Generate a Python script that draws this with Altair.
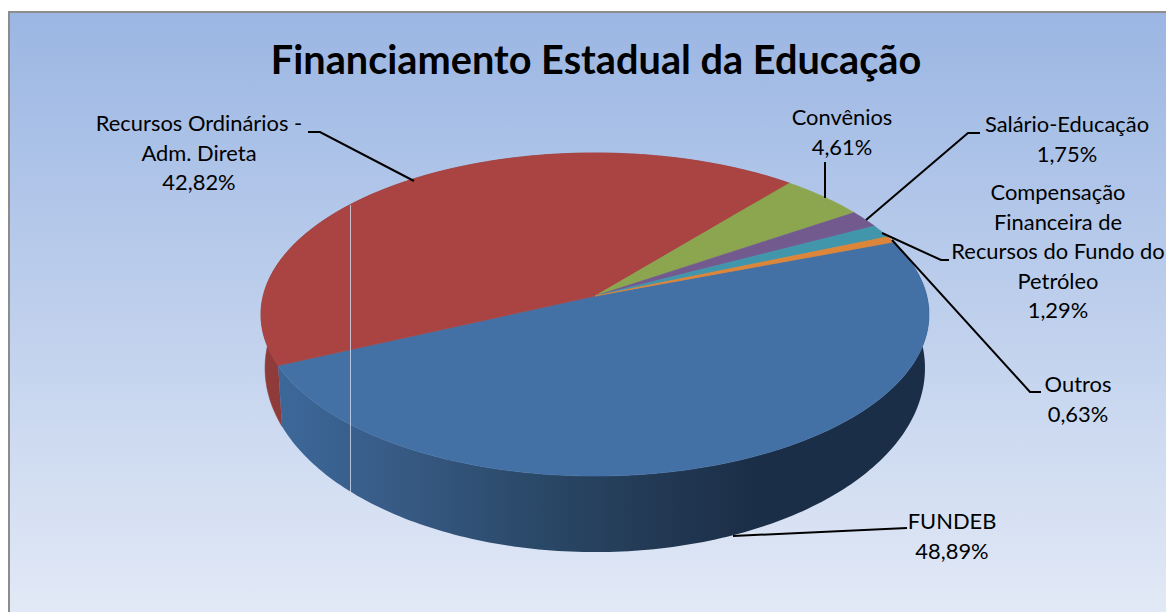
import math
import altair as alt

# ---- chart values ----
CATEGORIES = ["FUNDEB", "Recursos Ordinários -\nAdm. Direta", "Convênios", "Salário-Educação",
              "Compensação\nFinanceira de\nRecursos do Fundo do\nPetróleo", "Outros"]
VALUES = [48.89, 42.82, 4.61, 1.75, 1.29, 0.63]
TOP_COLORS = ["#4371a5", "#a94442", "#8ba64f", "#725a8f", "#4196ab", "#dd8538"]
TITLE = "Financiamento Estadual da Educação"

# ---- layout (page pixels) ----
OFFSET = 8
W, H = 1158, 604
FONT = "Lato"
CX = 595
START = -20.6
K = 0.1146
TOP = dict(cy=296, r=331.8, s=159.4)
BOT = dict(cy=347, r=327.8, s=181.6)
LABEL_POS = [(952, 522), (199, 124), (842, 118), (1067, 125), (1058, 193), (1078, 385)]
LEADERS = [
    [(733, 536), (907, 528)],
    [(308, 132), (320, 132), (414, 181)],
    [(825, 162), (825, 198)],
    [(980, 133), (968, 133), (866, 220)],
    [(949, 260), (941, 260), (882, 233)],
    [(1041, 392), (1030, 392), (892, 240)],
]


def project(deg, disc):
    t = math.radians(deg)
    u, v = math.cos(t), math.sin(t)
    d = 1 - K * v
    return [CX + disc["r"] * u / d, disc["cy"] + disc["s"] * v / d]


def arc(a0, a1, disc):
    n = max(2, int(abs(a1 - a0)) + 1)
    return [project(a0 + (a1 - a0) * i / n, disc) for i in range(n + 1)]


def feature(ring):
    return {"type": "Feature", "properties": {},
            "geometry": {"type": "Polygon", "coordinates": [ring + [ring[0]]]}}


total = sum(VALUES)
spans = []
a = START
for val in VALUES:
    b = a + 360 * val / total
    spans.append((a, b))
    a = b

PROJ = dict(type="identity", scale=1, translate=[-OFFSET, -OFFSET])


def geo(features, **mark):
    return alt.Chart(alt.Data(values=features)).mark_geoshape(**mark).project(**PROJ)


def wall(span):
    return feature(arc(span[0], span[1], TOP) + arc(span[1], span[0], BOT))


blue_grad = alt.LinearGradient(
    gradient="linear", x1=0, x2=1, y1=0, y2=0,
    stops=[alt.GradientStop(offset=o, color=c) for o, c in
           [(0, "#3c6899"), (0.19, "#375a84"), (0.40, "#2a4867"), (0.57, "#233a55"),
            (0.73, "#1b2e47"), (1, "#1b2e47")]],
)
bg_grad = alt.LinearGradient(
    gradient="linear", x1=0, x2=0, y1=0, y2=1,
    stops=[alt.GradientStop(offset=0, color="#9bb6e3"), alt.GradientStop(offset=1, color="#e2e9f6")],
)

one = alt.Data(values=[{}])
background = alt.Chart(one).mark_rect(fill=bg_grad, strokeWidth=0).encode(
    x=alt.value(0), x2=alt.value(W), y=alt.value(12 - OFFSET), y2=alt.value(H)
)
border_top = alt.Chart(one).mark_rule(color="#8c8c8c", strokeWidth=2).encode(
    x=alt.value(0), x2=alt.value(W), y=alt.value(12 - OFFSET)
)
border_left = alt.Chart(one).mark_rule(color="#8c8c8c", strokeWidth=2).encode(
    x=alt.value(1), y=alt.value(12 - OFFSET), y2=alt.value(H)
)

layers = [background, border_top, border_left]
layers.append(geo([wall(spans[1])], fill="#8f3b39", stroke="#8f3b39", strokeWidth=0.5))
layers.append(geo([wall(spans[0])], fill=blue_grad, strokeWidth=0))
for span, color in zip(spans, TOP_COLORS):
    ring = [[CX, TOP["cy"]]] + arc(span[0], span[1], TOP)
    layers.append(geo([feature(ring)], fill=color, stroke=color, strokeWidth=0.6))

artifact = alt.Chart(one).mark_rule(color="#d5dcec", strokeWidth=1, opacity=0.8).encode(
    x=alt.value(350.5 - OFFSET), y=alt.value(205 - OFFSET), y2=alt.value(497 - OFFSET)
)
layers.append(artifact)

leader_features = [
    {"type": "Feature", "properties": {},
     "geometry": {"type": "LineString", "coordinates": [list(p) for p in path]}}
    for path in LEADERS
]
layers.append(geo(leader_features, filled=False, fill="transparent", stroke="#000000", strokeWidth=2))

rows = []
for cat, val, pos in zip(CATEGORIES, VALUES, LABEL_POS):
    txt = cat + "\n" + f"{val:.2f}".replace(".", ",") + "%"
    rows.append({"t": txt, "px": pos[0] - OFFSET, "py": pos[1] - OFFSET})
labels = alt.Chart(alt.Data(values=rows)).mark_text(
    font=FONT, fontSize=21.9, color="#000000", align="center", baseline="middle",
    lineBreak="\n", lineHeight=29.6,
).encode(
    x=alt.X("px:Q", scale=None, axis=None),
    y=alt.Y("py:Q", scale=None, axis=None),
    text="t:N",
)
layers.append(labels)

title = alt.Chart(alt.Data(values=[{"t": TITLE}])).mark_text(
    font=FONT, fontSize=39.7, fontWeight="bold", color="#000000", align="center", baseline="middle",
).encode(x=alt.value(596 - OFFSET), y=alt.value(62 - OFFSET), text="t:N")
layers.append(title)

chart = alt.layer(*layers).properties(
    width=W, height=H, padding=0,
    autosize=alt.AutoSizeParams(type="none"),
).configure_view(stroke=None)

chart.save("out.html", embed_options={"renderer": "svg", "actions": False})
